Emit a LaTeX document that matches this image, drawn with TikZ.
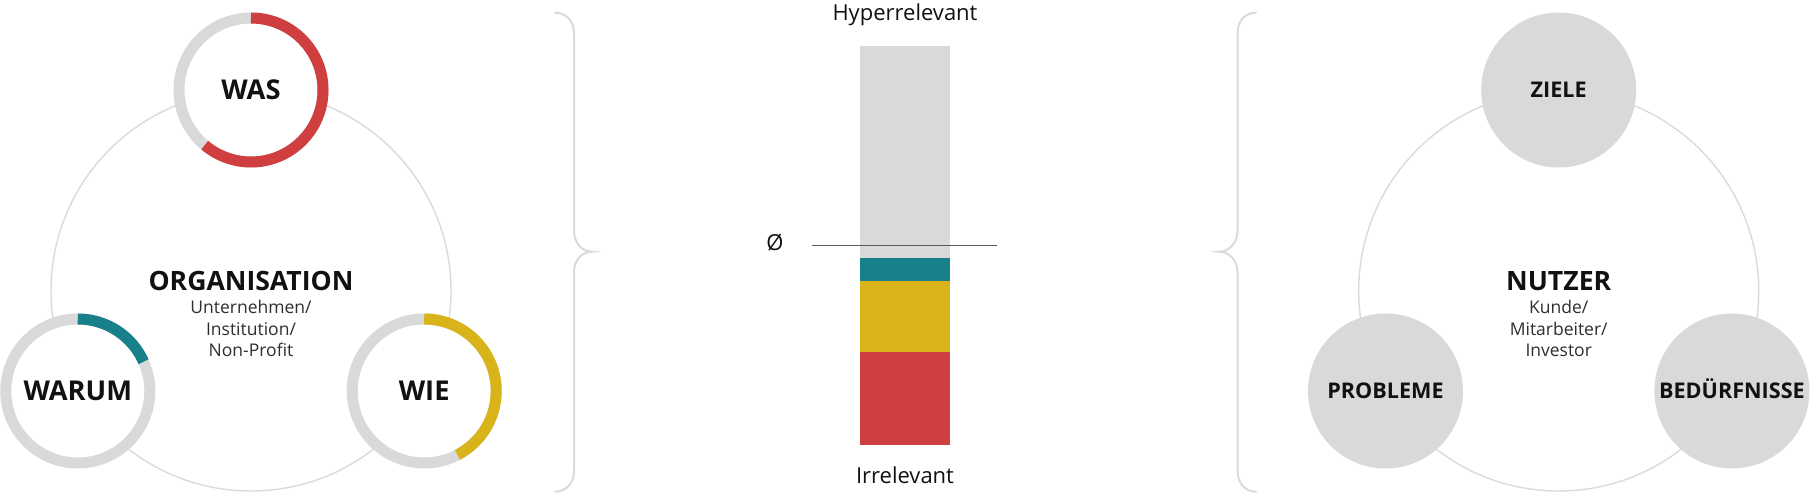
\documentclass[tikz,border=0pt]{standalone}
\usepackage{fontspec}
\setmainfont{Open Sans}
\definecolor{ringgray}{HTML}{D9D9D9}
\definecolor{thingray}{HTML}{DADADA}
\definecolor{cred}{HTML}{CF3F3F}
\definecolor{cteal}{HTML}{17808A}
\definecolor{cyellow}{HTML}{D8B41A}
\definecolor{txt}{HTML}{111111}
\definecolor{subtxt}{HTML}{2E2E2E}
\definecolor{meanline}{HTML}{5A5A5A}
\tikzset{
  bigcirc/.style={circle, draw=thingray, line width=1.4pt, minimum size=400pt, inner sep=0pt},
  ringnode/.style={circle, fill=white, minimum size=133pt, inner sep=0pt, text=txt,
    font=\fontsize{27.3}{31}\selectfont\bfseries, text height=19.5pt, text depth=0pt},
  graynode/.style={circle, fill=ringgray, minimum size=155pt, inner sep=0pt, text=txt,
    font=\fontsize{21.6}{25}\selectfont\bfseries, text height=15.4pt, text depth=0pt},
  ring/.style={draw=ringgray, line width=11pt},
  ringarc/.style={line width=11pt},
  heading/.style={anchor=base, text=txt, font=\fontsize{26.6}{30}\selectfont\bfseries, inner sep=0pt},
  subline/.style={anchor=base, text=subtxt, font=\fontsize{17.5}{21}\selectfont, inner sep=0pt},
  scaletxt/.style={anchor=base, text=txt, font=\fontsize{22}{26}\selectfont, inner sep=0pt},
  brace/.style={draw=thingray, line width=2pt, line cap=round}
}
\begin{document}
\begin{tikzpicture}[x=1pt,y=1pt]
\useasboundingbox (0,0) rectangle (1811,493);
% ---------- left group ----------
\node[bigcirc] (org) at (251,202) {};
\node[ringnode] (was) at (251,403) {WAS};
\node[ringnode] (warum) at (77.8,102) {WARUM};
\node[ringnode] (wie) at (424.2,102) {WIE};
\draw[ring] (was.center) circle[radius=72];
\draw[ring] (warum.center) circle[radius=72];
\draw[ring] (wie.center) circle[radius=72];
\draw[ringarc, cred] ([shift={(90:72)}]was.center) arc[start angle=90, end angle=-130, radius=72];
\draw[ringarc, cteal] ([shift={(90:72)}]warum.center) arc[start angle=90, end angle=24, radius=72];
\draw[ringarc, cyellow] ([shift={(90:72)}]wie.center) arc[start angle=90, end angle=-62.5, radius=72];
\node[heading] (orgtitle) at (251,202.3) {ORGANISATION};
\node[subline] (orgs1) at (251,179) {Unternehmen/};
\node[subline] (orgs2) at (251,157.7) {Institution/};
\node[subline] (orgs3) at (251,136.3) {Non-Profit};
% ---------- braces ----------
\draw[brace] (555,480.3) .. controls (566,480.3) and (574,472) .. (574,460)
  -- (574,262) .. controls (574,250) and (582,241.3) .. (592.3,241.3)
  .. controls (582,241.3) and (574,233) .. (574,221)
  -- (574,22) .. controls (574,10) and (566,1.3) .. (555,1.3);
\draw[brace] (1256,480.3) .. controls (1245,480.3) and (1237.5,472) .. (1237.5,460)
  -- (1237.5,262) .. controls (1237.5,250) and (1229,241.3) .. (1218.8,241.3)
  .. controls (1229,241.3) and (1237.5,233) .. (1237.5,221)
  -- (1237.5,22) .. controls (1237.5,10) and (1245,1.3) .. (1256,1.3);
% ---------- bar ----------
\fill[ringgray] (860,235.4) rectangle (950,447);
\fill[cteal] (860,211.5) rectangle (950,235.4);
\fill[cyellow] (860,141) rectangle (950,211.5);
\fill[cred] (860,48) rectangle (950,141);
\coordinate (mlA) at (812,247.3);
\coordinate (mlB) at (997,247.3);
\draw[meanline, line width=1.3pt] (mlA) -- (mlB);
\node[text=txt, font=\fontsize{22}{26}\selectfont, inner sep=0pt] (avg) at (775,250) {Ø};
\node[scaletxt] (hyper) at (905,472.3) {Hyperrelevant};
\node[scaletxt] (irr) at (905,10) {Irrelevant};
% ---------- right group ----------
\node[bigcirc] (nutzer) at (1558.7,202) {};
\node[graynode] (ziele) at (1558.7,403) {ZIELE};
\node[graynode] (probleme) at (1385.5,102) {PROBLEME};
\node[graynode] (beduerf) at (1731.9,102) {BEDÜRFNISSE};
\node[heading] (nutzertitle) at (1558.7,202.3) {NUTZER};
\node[subline] (nut1) at (1558.7,179) {Kunde/};
\node[subline] (nut2) at (1558.7,157.7) {Mitarbeiter/};
\node[subline] (nut3) at (1558.7,136.3) {Investor};
\end{tikzpicture}
\end{document}
